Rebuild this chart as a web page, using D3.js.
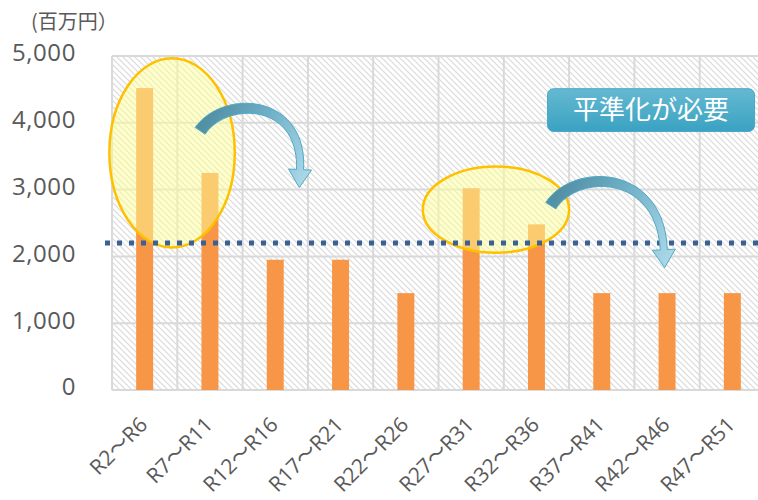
<!DOCTYPE html>
<html>
<head>
<meta charset="utf-8">
<script src="https://cdn.jsdelivr.net/npm/d3@7"></script>
<style>
  body { margin: 0; background: #fff; }
  svg { display: block; }
</style>
</head>
<body>
<div id="chart"></div>
<script>
const categories = ['R2～R6', 'R7～R11', 'R12～R16', 'R17～R21', 'R22～R26',
  'R27～R31', 'R32～R36', 'R37～R41', 'R42～R46', 'R47～R51'];
const costs = [4520, 3250, 1950, 1950, 1450, 3020, 2480, 1450, 1450, 1450];
const averageCost = 2200;
const yTicks = [0, 1000, 2000, 3000, 4000, 5000];
const unitLabel = '(百万円）';
const calloutText = '平準化が必要';

const width = 758;
const height = 500;
const margin = { top: 56, left: 112, bottom: 110 };
const bandWidth = 65.3;
const plotRight = margin.left + bandWidth * categories.length;
const plotBottom = height - margin.bottom;

const latin = '"Open Sans", "Noto Sans CJK JP", sans-serif';

const x = d3.scaleBand()
  .domain(categories)
  .range([margin.left, plotRight]);

// fractional category index -> px, for annotations
const xi = d3.scaleLinear()
  .domain([0, categories.length])
  .range([margin.left, plotRight]);

const y = d3.scaleLinear()
  .domain([0, 5000])
  .range([plotBottom, margin.top]);

const svg = d3.select('#chart').append('svg')
  .attr('width', width)
  .attr('height', height);

const defs = svg.append('defs');

const hatch = defs.append('pattern')
  .attr('id', 'hatch')
  .attr('patternUnits', 'userSpaceOnUse')
  .attr('width', 6)
  .attr('height', 6);
hatch.append('path')
  .attr('d', 'M0,0L6,6M-1,5L1,7M5,-1L7,1')
  .attr('stroke', '#d9d9d9')
  .attr('stroke-width', 1.2);

const boxGrad = defs.append('linearGradient')
  .attr('id', 'boxGrad')
  .attr('x1', 0).attr('y1', 0).attr('x2', 0).attr('y2', 1);
boxGrad.append('stop').attr('offset', '0%').attr('stop-color', '#65b9d1');
boxGrad.append('stop').attr('offset', '100%').attr('stop-color', '#3aa2c2');

// plot background
svg.append('rect')
  .attr('x', margin.left)
  .attr('y', margin.top)
  .attr('width', plotRight - margin.left)
  .attr('height', plotBottom - margin.top)
  .attr('fill', 'url(#hatch)');

// grid
const grid = svg.append('g')
  .attr('stroke', '#d9d9d9')
  .attr('stroke-width', 2);

grid.selectAll('.hgrid')
  .data(yTicks)
  .enter().append('line')
  .attr('x1', margin.left)
  .attr('x2', plotRight)
  .attr('y1', d => y(d))
  .attr('y2', d => y(d));

grid.selectAll('.vgrid')
  .data(d3.range(categories.length + 1))
  .enter().append('line')
  .attr('x1', d => xi(d))
  .attr('x2', d => xi(d))
  .attr('y1', margin.top)
  .attr('y2', plotBottom);

// y axis labels
const yAxis = d3.axisLeft(y)
  .tickValues(yTicks)
  .tickFormat(d3.format(','))
  .tickSize(0)
  .tickPadding(0);

svg.append('g')
  .attr('transform', 'translate(76,0)')
  .call(yAxis)
  .call(g => g.select('.domain').remove())
  .selectAll('text')
  .attr('font-family', latin)
  .attr('font-size', '24px')
  .attr('letter-spacing', '0.6px')
  .attr('fill', '#595959')
  .attr('dy', '0.2em');

svg.append('text')
  .attr('x', 31)
  .attr('y', 29)
  .attr('font-family', '"Noto Sans CJK JP", sans-serif')
  .attr('font-size', '20px')
  .attr('fill', '#595959')
  .text(unitLabel);

// x axis labels
svg.append('g')
  .selectAll('text')
  .data(categories)
  .enter().append('text')
  .attr('transform', d => `translate(${x(d) + x.bandwidth() / 2 + 4}, 426) rotate(-45)`)
  .attr('text-anchor', 'end')
  .attr('font-family', latin)
  .attr('font-size', '21px')
  .attr('fill', '#595959')
  .text(d => d);

// bars
const barWidth = x.bandwidth() * 0.26;
svg.append('g')
  .selectAll('rect')
  .data(costs)
  .enter().append('rect')
  .attr('x', (d, i) => x(categories[i]) + (x.bandwidth() - barWidth) / 2)
  .attr('y', d => y(d))
  .attr('width', barWidth)
  .attr('height', d => plotBottom - y(d))
  .attr('fill', '#f79646');

// highlight ellipses
const ellipses = [
  { cx: 0.92, cy: 3550, rx: 0.96, ry: 1415 },
  { cx: 5.88, cy: 2700, rx: 1.12, ry: 645 },
];
svg.append('g')
  .selectAll('ellipse')
  .data(ellipses)
  .enter().append('ellipse')
  .attr('cx', d => xi(d.cx))
  .attr('cy', d => y(d.cy))
  .attr('rx', d => xi(d.rx) - xi(0))
  .attr('ry', d => y(0) - y(d.ry))
  .attr('fill', '#ffff99')
  .attr('fill-opacity', 0.5)
  .attr('stroke', '#ffc000')
  .attr('stroke-width', 2.5);

// average line
svg.append('line')
  .attr('x1', 105)
  .attr('x2', width)
  .attr('y1', y(averageCost))
  .attr('y2', y(averageCost))
  .attr('stroke', '#3b6194')
  .attr('stroke-width', 5)
  .attr('stroke-dasharray', '5,7');

// curved arrows, tapered cubic with a head
function arrowPath(p0, p1, p2, p3, w0, w1, headW, headL) {
  const pt = (t) => {
    const u = 1 - t;
    return [
      u * u * u * p0[0] + 3 * u * u * t * p1[0] + 3 * u * t * t * p2[0] + t * t * t * p3[0],
      u * u * u * p0[1] + 3 * u * u * t * p1[1] + 3 * u * t * t * p2[1] + t * t * t * p3[1],
    ];
  };
  const tan = (t) => {
    const u = 1 - t;
    const dx = 3 * u * u * (p1[0] - p0[0]) + 6 * u * t * (p2[0] - p1[0]) + 3 * t * t * (p3[0] - p2[0]);
    const dy = 3 * u * u * (p1[1] - p0[1]) + 6 * u * t * (p2[1] - p1[1]) + 3 * t * t * (p3[1] - p2[1]);
    const l = Math.hypot(dx, dy);
    return [dx / l, dy / l];
  };
  const left = [];
  const right = [];
  const n = 40;
  for (let k = 0; k <= n; k += 1) {
    const t = k / n;
    const p = pt(t);
    const d = tan(t);
    const w = (w0 + (w1 - w0) * t) / 2;
    left.push([p[0] + d[1] * w, p[1] - d[0] * w]);
    right.push([p[0] - d[1] * w, p[1] + d[0] * w]);
  }
  const e = tan(1);
  const tip = [p3[0] + e[0] * headL, p3[1] + e[1] * headL];
  const hl = [p3[0] + e[1] * headW / 2, p3[1] - e[0] * headW / 2];
  const hr = [p3[0] - e[1] * headW / 2, p3[1] + e[0] * headW / 2];
  const pts = left.concat([hl, tip, hr], right.reverse());
  return { d: `M${pts.map(q => q.join(',')).join('L')}Z`, tip };
}

const arrows = [
  { p: [[1.35, 3880], [1.73, 4420], [2.93, 4370], [2.88, 3300]] },
  { p: [[6.72, 2760], [7.09, 3320], [8.39, 3320], [8.45, 2100]] },
];

arrows.forEach((a, i) => {
  const p = a.p.map(q => [xi(q[0]), y(q[1])]);
  const shape = arrowPath(p[0], p[1], p[2], p[3], 12, 7, 23, 18);
  const grad = defs.append('linearGradient')
    .attr('id', `arrowGrad${i}`)
    .attr('gradientUnits', 'userSpaceOnUse')
    .attr('x1', p[0][0]).attr('y1', p[0][1])
    .attr('x2', shape.tip[0]).attr('y2', shape.tip[1]);
  grad.append('stop').attr('offset', '0%').attr('stop-color', '#5290a6');
  grad.append('stop').attr('offset', '45%').attr('stop-color', '#6fb0c8');
  grad.append('stop').attr('offset', '100%').attr('stop-color', '#a9d7e7');
  svg.append('path')
    .attr('d', shape.d)
    .attr('fill', `url(#arrowGrad${i})`)
    .attr('stroke', '#4eaac5')
    .attr('stroke-width', 1);
});

// callout box
const box = svg.append('g');
box.append('rect')
  .attr('x', xi(6.67))
  .attr('y', y(4510))
  .attr('width', xi(9.84) - xi(6.67))
  .attr('height', y(3870) - y(4510))
  .attr('rx', 6)
  .attr('fill', 'url(#boxGrad)')
  .attr('stroke', '#4aa8c4')
  .attr('stroke-width', 1);
box.append('text')
  .attr('x', (xi(6.67) + xi(9.84)) / 2)
  .attr('y', y(4190))
  .attr('dy', '0.36em')
  .attr('text-anchor', 'middle')
  .attr('font-family', '"Noto Sans CJK JP", sans-serif')
  .attr('font-size', '26px')
  .attr('fill', '#ffffff')
  .text(calloutText);
</script>
</body>
</html>
